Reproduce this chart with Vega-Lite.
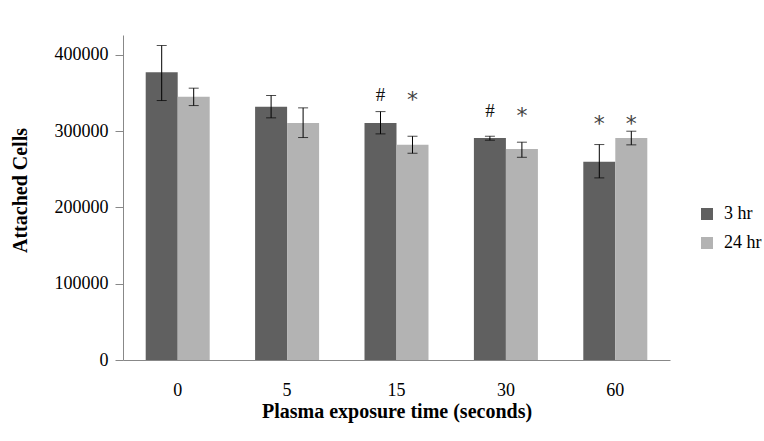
{
  "$schema": "https://vega.github.io/schema/vega-lite/v6.json",
  "width": 547,
  "height": 325,
  "autosize": {"type": "none"},
  "padding": {"left": 123, "top": 35, "right": 94, "bottom": 81},
  "background": "white",
  "config": {
    "view": {"stroke": null},
    "font": "Liberation Serif",
    "axis": {"labelFont": "Liberation Serif", "titleFont": "Liberation Serif", "labelColor": "#000", "titleColor": "#000", "grid": false, "domainColor": "#888888", "tickColor": "#888888"},
    "legend": {"labelFont": "Liberation Serif"},
    "text": {"font": "Liberation Serif"}
  },
  "datasets": {
    "bars": [
      {"time": "0", "series": "3 hr", "value": 377300, "lo": 340100, "hi": 412200},
      {"time": "0", "series": "24 hr", "value": 344900, "lo": 333500, "hi": 356300},
      {"time": "5", "series": "3 hr", "value": 331800, "lo": 317400, "hi": 346700},
      {"time": "5", "series": "24 hr", "value": 310800, "lo": 291600, "hi": 330500},
      {"time": "15", "series": "3 hr", "value": 310800, "lo": 296400, "hi": 325600},
      {"time": "15", "series": "24 hr", "value": 282000, "lo": 271000, "hi": 293300},
      {"time": "30", "series": "3 hr", "value": 291100, "lo": 288100, "hi": 293300},
      {"time": "30", "series": "24 hr", "value": 276700, "lo": 265700, "hi": 285500},
      {"time": "60", "series": "3 hr", "value": 259700, "lo": 238700, "hi": 282400},
      {"time": "60", "series": "24 hr", "value": 291100, "lo": 282000, "hi": 299900}
    ],
    "marks": [
      {"time": "15", "series": "3 hr", "label": "#", "pos": 347500},
      {"time": "15", "series": "24 hr", "label": "*", "pos": 347500},
      {"time": "30", "series": "3 hr", "label": "#", "pos": 326600},
      {"time": "30", "series": "24 hr", "label": "*", "pos": 326600},
      {"time": "60", "series": "3 hr", "label": "*", "pos": 316000},
      {"time": "60", "series": "24 hr", "label": "*", "pos": 316000}
    ]
  },
  "encoding": {
    "x": {
      "field": "time", "type": "nominal", "sort": ["0", "5", "15", "30", "60"],
      "scale": {"paddingInner": 0.415, "paddingOuter": 0.2075},
      "axis": {"title": "Plasma exposure time (seconds)", "labelFont": "Liberation Serif", "titleFont": "Liberation Serif", "labelAngle": 0, "ticks": false, "tickSize": 0, "labelPadding": 21, "labelFontSize": 18, "titleFontSize": 20, "titleFontWeight": "bold", "titleBaseline": "middle", "titleY": 51}
    },
    "xOffset": {"field": "series", "type": "nominal", "sort": ["3 hr", "24 hr"], "scale": {"paddingInner": 0, "paddingOuter": 0}}
  },
  "layer": [
    {
      "data": {"name": "bars"},
      "mark": {"type": "bar"},
      "encoding": {
        "y": {
          "field": "value", "type": "quantitative",
          "scale": {"domain": [0, 426000], "nice": false},
          "axis": {"title": "Attached Cells", "labelFont": "Liberation Serif", "titleFont": "Liberation Serif", "values": [0, 100000, 200000, 300000, 400000], "format": "d", "tickSize": 8, "labelPadding": 7, "labelFontSize": 18, "titleFontSize": 20, "titleFontWeight": "bold", "titleX": -103, "titleY": 155, "titleBaseline": "middle", "titleAlign": "center"}
        },
        "color": {
          "field": "series", "type": "nominal",
          "scale": {"domain": ["3 hr", "24 hr"], "range": ["#606060", "#b3b3b3"]},
          "legend": {"title": null, "orient": "none", "legendX": 575, "legendY": 170, "symbolType": "square", "symbolSize": 144, "symbolStrokeWidth": 0, "labelFont": "Liberation Serif", "labelFontSize": 18, "labelOffset": 8, "rowPadding": 11}
        }
      }
    },
    {
      "data": {"name": "bars"},
      "mark": {"type": "rule", "color": "#000", "strokeWidth": 1},
      "encoding": {
        "y": {"field": "lo", "type": "quantitative"},
        "y2": {"field": "hi"}
      }
    },
    {
      "data": {"name": "bars"},
      "mark": {"type": "tick", "color": "#000", "size": 10, "thickness": 1},
      "encoding": {"y": {"field": "lo", "type": "quantitative"}}
    },
    {
      "data": {"name": "bars"},
      "mark": {"type": "tick", "color": "#000", "size": 10, "thickness": 1},
      "encoding": {"y": {"field": "hi", "type": "quantitative"}}
    },
    {
      "data": {"name": "marks"},
      "transform": [{"filter": "datum.label === '#'"}],
      "mark": {"type": "text", "fontSize": 19, "color": "#111", "baseline": "middle", "font": "Liberation Serif"},
      "encoding": {
        "y": {"field": "pos", "type": "quantitative"},
        "text": {"field": "label"}
      }
    },
    {
      "data": {"name": "marks"},
      "transform": [{"filter": "datum.label === '*'"}],
      "mark": {"type": "text", "fontSize": 22, "color": "#444", "baseline": "middle", "font": "DejaVu Sans", "dy": 5},
      "encoding": {
        "y": {"field": "pos", "type": "quantitative"},
        "text": {"field": "label"}
      }
    }
  ]
}
